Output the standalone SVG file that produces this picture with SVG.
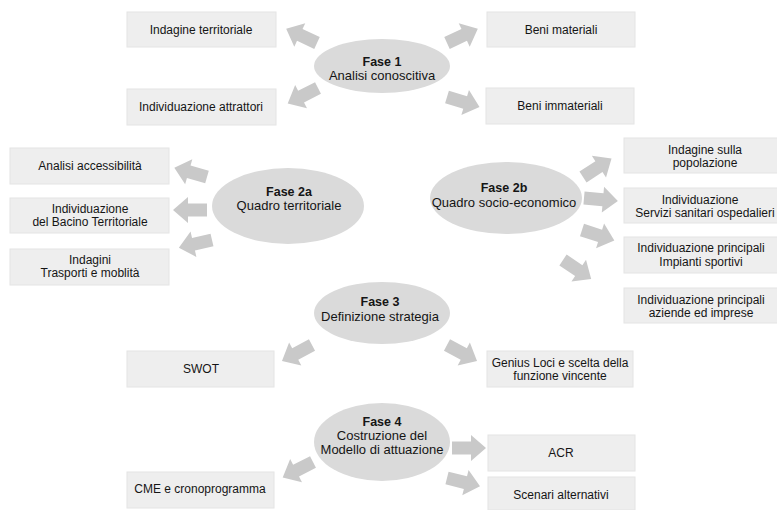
<svg xmlns="http://www.w3.org/2000/svg" xmlns:xlink="http://www.w3.org/1999/xlink" width="777" height="510" viewBox="0 0 777 510">
<style>
.box{fill:#eeeeee;stroke:#e4e4e4;stroke-width:1}
.ell{fill:#dadada}
.arr{fill:#c9c9c9}
text{font-family:"Liberation Sans",Arial,sans-serif;font-size:12px;fill:#151515;text-anchor:middle}
.t{font-size:13px}
.b{font-weight:bold;font-size:12.5px}
</style>
<defs>
<path id="arr" d="M0,-6.5 L19,-6.5 L19,-13 L34,0 L19,13 L19,6.5 L0,6.5 Z"/>
</defs>
<rect width="777" height="510" fill="#ffffff"/>
<g id="connectors" class="arr">
<use xlink:href="#arr" transform="translate(317,43) rotate(205)"/>
<use xlink:href="#arr" transform="translate(447,43) rotate(-25)"/>
<use xlink:href="#arr" transform="translate(318,88) rotate(153)"/>
<use xlink:href="#arr" transform="translate(447,97) rotate(17)"/>
<use xlink:href="#arr" transform="translate(207,177) rotate(196)"/>
<use xlink:href="#arr" transform="translate(207,210) rotate(180)"/>
<use xlink:href="#arr" transform="translate(212,240) rotate(167)"/>
<use xlink:href="#arr" transform="translate(583,177) rotate(-33)"/>
<use xlink:href="#arr" transform="translate(584,198) rotate(5)"/>
<use xlink:href="#arr" transform="translate(582,230) rotate(18)"/>
<use xlink:href="#arr" transform="translate(563,260) rotate(34)"/>
<use xlink:href="#arr" transform="translate(312,345) rotate(152)"/>
<use xlink:href="#arr" transform="translate(447,345) rotate(28)"/>
<use xlink:href="#arr" transform="translate(313,462) rotate(153)"/>
<use xlink:href="#arr" transform="translate(452,448) rotate(0)"/>
<use xlink:href="#arr" transform="translate(447,478) rotate(14)"/>
</g>
<g id="fase1">
<ellipse class="ell" cx="382" cy="66" rx="68" ry="27"/>
<text class="b" x="382" y="66">Fase 1</text>
<text class="t" x="382" y="80">Analisi conoscitiva</text>
</g>
<g id="indagine-territoriale"><rect class="box" x="127" y="12" width="149" height="35"/><text x="201" y="34">Indagine territoriale</text></g>
<g id="beni-materiali"><rect class="box" x="487" y="12" width="148" height="35"/><text x="561" y="34">Beni materiali</text></g>
<g id="individuazione-attrattori"><rect class="box" x="127" y="89" width="149" height="36"/><text x="201" y="111">Individuazione attrattori</text></g>
<g id="beni-immateriali"><rect class="box" x="486" y="88" width="148" height="36"/><text x="560" y="110">Beni immateriali</text></g>
<g id="fase2a">
<ellipse class="ell" cx="288" cy="206" rx="76" ry="38"/>
<text class="b" x="289" y="196">Fase 2a</text>
<text class="t" x="289" y="210">Quadro territoriale</text>
</g>
<g id="analisi-accessibilita"><rect class="box" x="10" y="148" width="159" height="36"/><text x="90" y="170">Analisi accessibilità</text></g>
<g id="bacino-territoriale"><rect class="box" x="10" y="198" width="159" height="35"/><text x="90" y="213">Individuazione</text><text x="90" y="226">del Bacino Territoriale</text></g>
<g id="trasporti"><rect class="box" x="10" y="249" width="159" height="36"/><text x="90" y="264">Indagini</text><text x="90" y="277">Trasporti e moblità</text></g>
<g id="fase2b">
<ellipse class="ell" cx="506" cy="198" rx="76" ry="36"/>
<text class="b" x="504" y="192">Fase 2b</text>
<text class="t" x="504" y="207">Quadro socio-economico</text>
</g>
<g id="popolazione"><rect class="box" x="624" y="138" width="160" height="35"/><text x="705" y="154">Indagine sulla</text><text x="705" y="167">popolazione</text></g>
<g id="servizi-sanitari"><rect class="box" x="624" y="188" width="160" height="35"/><text x="700" y="204">Individuazione</text><text x="705" y="217">Servizi sanitari ospedalieri</text></g>
<g id="impianti-sportivi"><rect class="box" x="624" y="237" width="160" height="36"/><text x="701" y="252">Individuazione principali</text><text x="701" y="266">Impianti sportivi</text></g>
<g id="aziende"><rect class="box" x="624" y="288" width="160" height="35"/><text x="701" y="304">Individuazione principali</text><text x="701" y="317">aziende ed imprese</text></g>
<g id="fase3">
<ellipse class="ell" cx="382" cy="313" rx="68" ry="31"/>
<text class="b" x="380" y="306">Fase 3</text>
<text class="t" x="380" y="321">Definizione strategia</text>
</g>
<g id="swot"><rect class="box" x="127" y="351" width="147" height="36"/><text x="201" y="373">SWOT</text></g>
<g id="genius-loci"><rect class="box" x="487" y="351" width="146" height="36"/><text x="560" y="367">Genius Loci e scelta della</text><text x="560" y="380">funzione vincente</text></g>
<g id="fase4">
<ellipse class="ell" cx="382" cy="442" rx="68" ry="39"/>
<text class="b" x="382" y="426">Fase 4</text>
<text class="t" x="382" y="440">Costruzione del</text>
<text class="t" x="382" y="454">Modello di attuazione</text>
</g>
<g id="acr"><rect class="box" x="488" y="435" width="147" height="36"/><text x="561" y="457">ACR</text></g>
<g id="scenari"><rect class="box" x="488" y="477" width="147" height="33"/><text x="561" y="499">Scenari alternativi</text></g>
<g id="cme"><rect class="box" x="127" y="472" width="147" height="36"/><text x="200" y="493">CME e cronoprogramma</text></g>
</svg>
